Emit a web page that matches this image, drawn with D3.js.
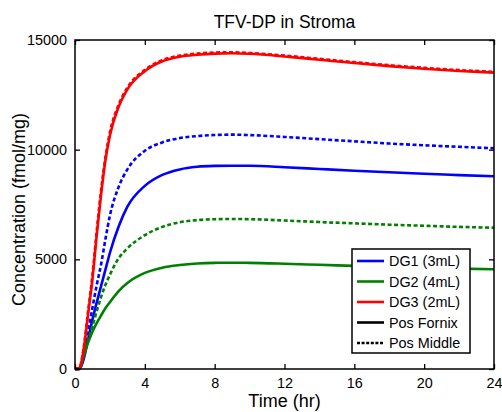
<!DOCTYPE html>
<html>
<head>
<meta charset="utf-8">
<script src="https://cdn.jsdelivr.net/npm/d3@7"></script>
<style>
  html, body { margin: 0; padding: 0; background: #fff; }
  svg { display: block; font-family: "Liberation Sans", Arial, Helvetica, sans-serif; }
</style>
</head>
<body>
<svg id="chart" width="502" height="412"></svg>
<script>
// Time grid (hr)
const time = [0, 0.25, 0.5, 0.75, 1, 1.25, 1.5, 1.75, 2, 2.5, 3, 4, 5, 6, 7, 8, 9, 10, 12, 14, 16, 18, 20, 22, 24];

// TFV-DP stroma concentration (fmol/mg)
const dg1Fornix = [0, 0, 450, 1350, 2250, 3050, 3800, 4550, 5300, 6500, 7400, 8350, 8850, 9100, 9220, 9260, 9270, 9265, 9200, 9120, 9040, 8970, 8900, 8840, 8785];
const dg1Middle = [0, 0, 650, 1700, 2800, 3850, 4800, 5950, 7000, 8300, 9100, 9950, 10330, 10530, 10620, 10670, 10685, 10665, 10580, 10480, 10380, 10280, 10200, 10130, 10063];
const dg2Fornix = [0, 0, 600, 1200, 1700, 2100, 2450, 2780, 3050, 3550, 3920, 4380, 4620, 4740, 4810, 4840, 4847, 4840, 4800, 4750, 4700, 4650, 4610, 4575, 4546];
const dg2Middle = [0, 0, 600, 1300, 1950, 2650, 3300, 3850, 4300, 5050, 5500, 6100, 6480, 6690, 6790, 6830, 6840, 6830, 6770, 6700, 6640, 6580, 6530, 6480, 6443];
const dg3Fornix = [0, 50, 900, 2500, 4100, 6150, 8000, 9550, 10650, 11950, 12750, 13580, 14030, 14240, 14330, 14380, 14395, 14370, 14250, 14100, 13950, 13810, 13690, 13590, 13510];
const dg3Middle = [0, 60, 1000, 2650, 4300, 6350, 8200, 9700, 10800, 12050, 12830, 13640, 14080, 14290, 14380, 14430, 14440, 14410, 14290, 14140, 13990, 13850, 13730, 13630, 13550];

const xTicks = [0, 4, 8, 12, 16, 20, 24];
const yTicks = [0, 5000, 10000, 15000];

const seriesList = [
  { name: "DG1 (3mL)", color: "#0000ff", fornix: dg1Fornix, middle: dg1Middle },
  { name: "DG2 (4mL)", color: "#008000", fornix: dg2Fornix, middle: dg2Middle },
  { name: "DG3 (2mL)", color: "#ff0000", fornix: dg3Fornix, middle: dg3Middle }
];
const styleKey = [
  { name: "Pos Fornix", dash: null },
  { name: "Pos Middle", dash: "4,2.5" }
];

const svg = d3.select("#chart");
const plotLeft = 75, plotRight = 494, plotTop = 40, plotBottom = 369;

const x = d3.scaleLinear().domain([0, 24]).range([plotLeft, plotRight]);
const y = d3.scaleLinear().domain([0, 15000]).range([plotBottom, plotTop]);

// Curves
const line = d3.line()
  .x((d, i) => x(time[i]))
  .y(d => y(d))
  .curve(d3.curveMonotoneX);

const plot = svg.append("g");
seriesList.forEach(s => {
  plot.append("path").attr("d", line(s.fornix))
    .attr("fill", "none").attr("stroke", s.color).attr("stroke-width", 2.6);
  plot.append("path").attr("d", line(s.middle))
    .attr("fill", "none").attr("stroke", s.color).attr("stroke-width", 2.6)
    .attr("stroke-dasharray", styleKey[1].dash);
});

// Axes with inward ticks on all four sides
const tickLen = 5;
const fontTick = "14.4px";
svg.append("g").attr("transform", `translate(0,${plotBottom})`)
  .call(d3.axisBottom(x).tickValues(xTicks).tickSizeInner(-tickLen).tickSizeOuter(0).tickPadding(9))
  .call(g => g.select(".domain").remove());
svg.append("g").attr("transform", `translate(0,${plotTop})`)
  .call(d3.axisTop(x).tickValues(xTicks).tickSizeInner(-tickLen).tickSizeOuter(0).tickFormat(""))
  .call(g => g.select(".domain").remove());
svg.append("g").attr("transform", `translate(${plotLeft},0)`)
  .call(d3.axisLeft(y).tickValues(yTicks).tickSizeInner(-tickLen).tickSizeOuter(0).tickPadding(8).tickFormat(d3.format("d")))
  .call(g => g.select(".domain").remove());
svg.append("g").attr("transform", `translate(${plotRight},0)`)
  .call(d3.axisRight(y).tickValues(yTicks).tickSizeInner(-tickLen).tickSizeOuter(0).tickFormat(""))
  .call(g => g.select(".domain").remove());

svg.selectAll(".tick line").attr("stroke", "#000").attr("stroke-width", 1.3);
svg.selectAll(".tick text").attr("fill", "#000").style("font-size", fontTick)
  .style("font-family", "'Liberation Sans', Arial, sans-serif");

// Box
svg.append("rect")
  .attr("x", plotLeft).attr("y", plotTop).attr("width", plotRight - plotLeft).attr("height", plotBottom - plotTop)
  .attr("fill", "none").attr("stroke", "#000").attr("stroke-width", 1.5);

// Titles
svg.append("text").attr("x", (plotLeft + plotRight) / 2).attr("y", 28)
  .attr("text-anchor", "middle").style("font-size", "17.5px").text("TFV-DP in Stroma");
svg.append("text").attr("x", (plotLeft + plotRight) / 2).attr("y", 407)
  .attr("text-anchor", "middle").style("font-size", "18px").text("Time (hr)");
svg.append("text")
  .attr("transform", `translate(25,${(plotTop + plotBottom) / 2 + 5}) rotate(-90)`)
  .attr("text-anchor", "middle").style("font-size", "18px").text("Concentration (fmol/mg)");

// Legend
const legend = svg.append("g");
const lx = 352, ly = 249, lw = 118, lh = 104, rowH = 20.5;
legend.append("rect").attr("x", lx).attr("y", ly).attr("width", lw).attr("height", lh)
  .attr("fill", "#fff").attr("stroke", "#000").attr("stroke-width", 1.5);
const entries = seriesList.map(s => ({ name: s.name, color: s.color, dash: null }))
  .concat(styleKey.map(k => ({ name: k.name, color: "#000", dash: k.dash })));
entries.forEach((e, i) => {
  const cy = ly + 12 + i * rowH;
  legend.append("line").attr("x1", lx + 5).attr("x2", lx + 32).attr("y1", cy).attr("y2", cy)
    .attr("stroke", e.color).attr("stroke-width", 2.6)
    .attr("stroke-dasharray", e.dash ? "3,1.6" : null);
  legend.append("text").attr("x", lx + 37).attr("y", cy + 5)
    .style("font-size", "14.4px").text(e.name);
});
</script>
</body>
</html>
